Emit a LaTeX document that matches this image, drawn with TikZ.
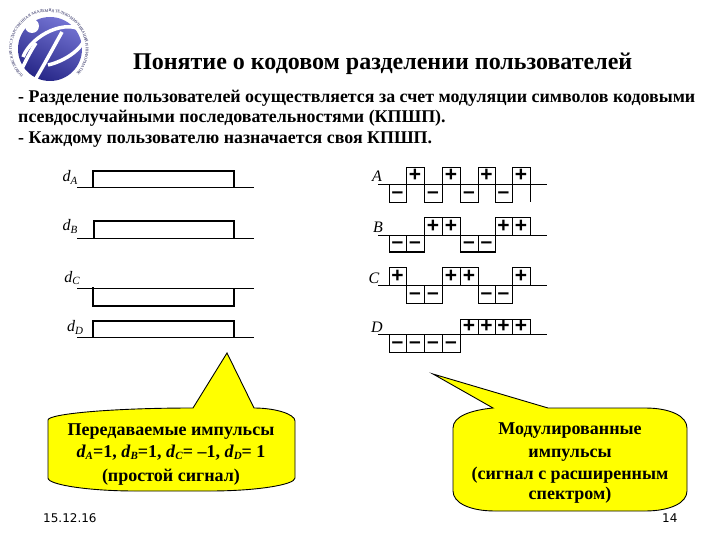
\documentclass[tikz,border=0pt]{standalone}
\usepackage{fontspec}
\setmainfont{Liberation Serif}
\newfontfamily\dejafont{DejaVu Sans}
\newfontfamily\signfont{Liberation Sans}
\usetikzlibrary{decorations.text}
\definecolor{calloutyellow}{RGB}{255,255,0}
\definecolor{logoblue}{RGB}{38,38,135}
\definecolor{logolight}{RGB}{115,115,210}
\newcommand{\dsub}[1]{\textit{d}\raisebox{-0.35ex}{\fontsize{11}{11}\selectfont\textit{#1}}}
\newcommand{\wavelabel}[1]{\textit{d}\raisebox{-0.4ex}{\fontsize{11}{11}\selectfont\textit{#1}}}
\newcommand{\coderow}[5]{%
  \draw[wave] (378,#1) -- (547,#1);
  \foreach \s [count=\i] in {#4} {
    \pgfmathsetmacro\xa{{389,406,424,442,460,478,495,512}[\i-1]}
    \pgfmathsetmacro\xb{{406,424,442,460,478,495,512,530}[\i-1]}
    \ifnum\s>0
      \draw[wave] (\xa,#1) rectangle (\xb,#2);
      \node[signmark] at ({(\xa+\xb)/2},{(#1+#2)/2}) {+};
    \else
      \draw[wave] (\xa,#1) rectangle (\xb,#3);
      \node[signmark,yshift=-2pt] at ({(\xa+\xb)/2},{(#1+#3)/2}) {–};
    \fi
  }
  #5
}
\tikzset{
  wave/.style={line width=0.8pt,black},
  pulse/.style={line width=1.6pt,black},
  signmark/.style={font=\signfont\bfseries\fontsize{21}{21}\selectfont,inner sep=0pt},
  titletext/.style={anchor=base west,inner sep=0pt,font=\bfseries\fontsize{24}{24}\selectfont},
  bodytext/.style={anchor=base west,inner sep=0pt,font=\bfseries\fontsize{17.9}{18}\selectfont},
  calltext/.style={anchor=base,inner sep=0pt,font=\bfseries\fontsize{18}{18}\selectfont},
  foot/.style={anchor=base west,inner sep=0pt,font=\dejafont\fontsize{12}{12}\selectfont},
  wlabel/.style={inner sep=0pt,font=\fontsize{16}{16}\selectfont},
  letterlabel/.style={inner sep=0pt,font=\itshape\fontsize{16}{16}\selectfont},
  callout/.style={draw=black,line width=0.9pt,fill=calloutyellow},
}
\begin{document}
\begin{tikzpicture}[x=1pt,y=-1pt]
\useasboundingbox (0,0) rectangle (720,540);
% logo
\shade[top color=logolight,bottom color=logoblue,shading angle=-25] (50,49) circle (32);
\draw[white,line width=3.5pt] (23,57) .. controls (32,34) and (68,18) .. (84,32) .. controls (90,42) and (70,60) .. (48,65);
\draw[white,line width=3.5pt] (20,73) .. controls (25,62) and (30,52) .. (36,43);
\draw[white,line width=3.5pt] (62,32) .. controls (52,50) and (44,65) .. (35,80);
\fill[white] (32,26) circle (7);
\path[decorate,decoration={text along path,text align=center,
  text={|\fontsize{4}{5}\selectfont\color{logoblue!60!black}|ПОВОЛЖСКАЯ ГОСУДАРСТВЕННАЯ АКАДЕМИЯ ТЕЛЕКОММУНИКАЦИЙ И ИНФОРМАТИКИ}}]
  (21.3,73.7) arc[start angle=138,end angle=402,radius=37];
% title and body
\node[titletext] (title) at (133,70) {Понятие о кодовом разделении пользователей};
\node[bodytext] (l1) at (18,103) {- Разделение пользователей осуществляется за счет модуляции символов кодовыми};
\node[bodytext] (l2) at (18,123) {псевдослучайными последовательностями (КПШП).};
\node[bodytext] (l3) at (18,144) {- Каждому пользователю назначается своя КПШП.};
% left pulses
\draw[wave] (77,187) -- (254,187);
\draw[pulse] (93,187) -- (93,171) -- (234,171) -- (234,187);
\draw[wave] (77,238) -- (254,238);
\draw[pulse] (94,238) -- (94,221) -- (234,221) -- (234,238);
\draw[wave] (77,288) -- (254,288);
\draw[pulse] (93,287) -- (93,306) -- (234,306) -- (234,288);
\draw[wave] (77,337) -- (254,337);
\draw[pulse] (93,337) -- (93,321) -- (234,321) -- (234,337);
\draw[line width=2.4pt] (93,321) -- (234,321);
\node[wlabel] (da) at (70,177) {\wavelabel{A}};
\node[wlabel] (db) at (70,226) {\wavelabel{B}};
\node[wlabel] (dc) at (72,278) {\wavelabel{C}};
\node[wlabel] (dd) at (75,327) {\wavelabel{D}};
% code rows
\coderow{184}{167}{202}{-1,1,-1,1,-1,1,-1,1}{\draw[wave] (530,184) -- (530,202);}
\coderow{235}{217}{252}{-1,-1,1,1,-1,-1,1,1}{\draw[pulse] (389,252) -- (424,252) (460,252) -- (495,252);}
\coderow{285}{267}{303}{1,-1,-1,1,1,-1,-1,1}{}
\coderow{334}{319}{352}{-1,-1,-1,-1,1,1,1,1}{}
\node[letterlabel] (la) at (377,176) {A};
\node[letterlabel] (lb) at (378,227) {B};
\node[letterlabel] (lc) at (374,278) {C};
\node[letterlabel] (ld) at (377,327) {D};
% callouts
\draw[callout] (48,420) .. controls (48,414) and (110,408) .. (193,408) -- (227,353) -- (254,408)
  .. controls (275,408) and (295,414) .. (295,421) -- (295,478)
  .. controls (295,485) and (255,491) .. (210,491) -- (135,491)
  .. controls (90,491) and (48,485) .. (48,478) -- cycle;
\node[calltext] (c1a) at (171,435) {Передаваемые импульсы};
\node[calltext] (c1b) at (171,457) {\dsub{A}=1, \dsub{B}=1, \dsub{C}= –1, \dsub{D}= 1};
\node[calltext] (c1c) at (171,481) {(простой сигнал)};
\draw[callout] (453,428) .. controls (453,416) and (472,410) .. (493,408) -- (433,374) -- (548,408) -- (645,408)
  .. controls (670,408) and (687,416) .. (687,428) -- (687,491)
  .. controls (687,503) and (670,511) .. (645,511) -- (495,511)
  .. controls (470,511) and (453,503) .. (453,491) -- cycle;
\node[calltext] (c2a) at (570,434) {Модулированные};
\node[calltext] (c2b) at (570,457) {импульсы};
\node[calltext] (c2c) at (570,479) {(сигнал с расширенным};
\node[calltext] (c2d) at (570,499) {спектром)};
% footer
\node[foot] (date) at (43,522) {15.12.16};
\node[foot] (page) at (662,522) {14};
\end{tikzpicture}
\end{document}
